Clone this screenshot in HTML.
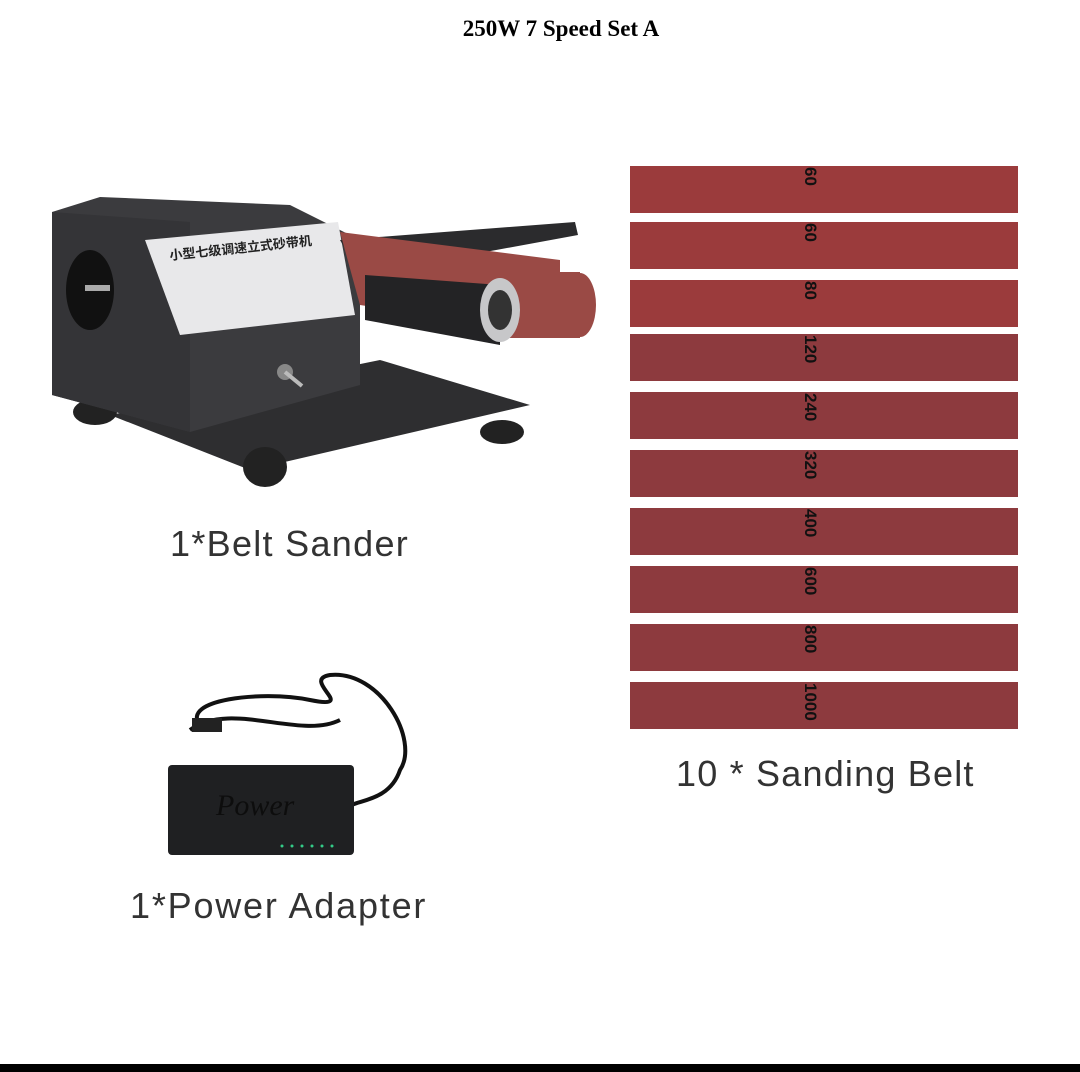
<!DOCTYPE html>
<html><head><meta charset="utf-8"><style>
html,body{margin:0;padding:0;background:#fff;}
body{width:1080px;height:1072px;position:relative;overflow:hidden;font-family:"Liberation Sans","Noto Sans CJK SC",sans-serif;}
.t{position:absolute;left:0;width:1122px;top:16px;text-align:center;font-family:"Liberation Serif",serif;font-weight:bold;font-size:23px;color:#000;}
.belt{position:absolute;left:630px;width:388px;height:47px;background:#8d3a3e;}
.belt.r{background:#9b3b3c;}
.num{position:absolute;left:808px;font-size:17px;font-weight:bold;color:#111;transform:rotate(90deg);transform-origin:0 0;white-space:nowrap;}
.lbl{position:absolute;font-size:36px;color:#333;white-space:nowrap;}
.bar{position:absolute;left:0;top:1064px;width:1080px;height:8px;background:#000;}
</style></head><body>
<div class="t">250W 7 Speed Set A</div>

<svg style="position:absolute;left:0;top:0" width="1080" height="1072">
 <polygon points="110,415 380,360 530,405 250,470" fill="#2e2e30"/>
 <ellipse cx="95" cy="412" rx="22" ry="13" fill="#222"/>
 <ellipse cx="265" cy="467" rx="22" ry="20" fill="#222"/>
 <ellipse cx="502" cy="432" rx="22" ry="12" fill="#222"/>
 <polygon points="52,212 100,197 290,205 360,240 360,385 190,432 52,395" fill="#3b3b3e"/>
 <polygon points="52,212 190,222 190,432 52,395" fill="#343437"/>
 <ellipse cx="90" cy="290" rx="24" ry="40" fill="#111"/>
 <rect x="85" y="285" width="25" height="6" fill="#aaa"/>
 <polygon points="145,240 338,222 355,315 180,335" fill="#e8e8ea"/>
 <text x="170" y="260" font-size="13" font-weight="bold" fill="#222" transform="rotate(-6 170 260)" font-family="Noto Sans CJK SC,sans-serif">小型七级调速立式砂带机</text>
 <circle cx="285" cy="372" r="8" fill="#888"/>
 <line x1="285" y1="372" x2="302" y2="386" stroke="#bbb" stroke-width="4"/>
 <polygon points="340,240 575,222 578,235 360,275" fill="#2b2b2d"/>
 <polygon points="340,232 560,260 560,336 360,305" fill="#9a4a45"/>
 <polygon points="365,275 500,285 500,345 365,320" fill="#232325"/>
 <ellipse cx="580" cy="305" rx="16" ry="32" fill="#9a4a45"/>
 <rect x="500" y="272" width="80" height="66" fill="#9a4a45"/>
 <ellipse cx="500" cy="310" rx="20" ry="32" fill="#c7c7c9"/>
 <ellipse cx="500" cy="310" rx="12" ry="20" fill="#333"/>
 <path d="M200,725 C180,700 260,690 310,700 C360,710 300,680 330,675 C380,670 420,740 400,770 C390,800 360,800 352,805" fill="none" stroke="#111" stroke-width="4"/>
 <path d="M190,730 C230,700 300,740 340,720" fill="none" stroke="#111" stroke-width="4"/>
 <rect x="192" y="718" width="30" height="14" fill="#222"/>
 <rect x="168" y="765" width="186" height="90" rx="4" fill="#1f2022"/>
 <text x="216" y="815" font-family="Liberation Serif,serif" font-style="italic" font-size="30" fill="#0d0d0d">Power</text>
 <g fill="#3c8">
  <circle cx="282" cy="846" r="1.5"/><circle cx="292" cy="846" r="1.5"/><circle cx="302" cy="846" r="1.5"/><circle cx="312" cy="846" r="1.5"/><circle cx="322" cy="846" r="1.5"/><circle cx="332" cy="846" r="1.5"/>
 </g>
</svg>

<div class="belt r" style="top:166px"></div>
<div class="belt r" style="top:222px"></div>
<div class="belt r" style="top:280px"></div>
<div class="belt" style="top:334px"></div>
<div class="belt" style="top:392px"></div>
<div class="belt" style="top:450px"></div>
<div class="belt" style="top:508px"></div>
<div class="belt" style="top:566px"></div>
<div class="belt" style="top:624px"></div>
<div class="belt" style="top:682px"></div>

<div class="num" style="top:167px;left:820px">60</div>
<div class="num" style="top:223px;left:820px">60</div>
<div class="num" style="top:281px;left:820px">80</div>
<div class="num" style="top:335px;left:820px">120</div>
<div class="num" style="top:393px;left:820px">240</div>
<div class="num" style="top:451px;left:820px">320</div>
<div class="num" style="top:509px;left:820px">400</div>
<div class="num" style="top:567px;left:820px">600</div>
<div class="num" style="top:625px;left:820px">800</div>
<div class="num" style="top:683px;left:820px">1000</div>

<div class="lbl" style="left:170px;top:523px;letter-spacing:1.3px">1*Belt Sander</div>
<div class="lbl" style="left:676px;top:753px;letter-spacing:1.2px">10 * Sanding Belt</div>
<div class="lbl" style="left:130px;top:885px;letter-spacing:1.8px">1*Power Adapter</div>
<div class="bar"></div>
</body></html>
